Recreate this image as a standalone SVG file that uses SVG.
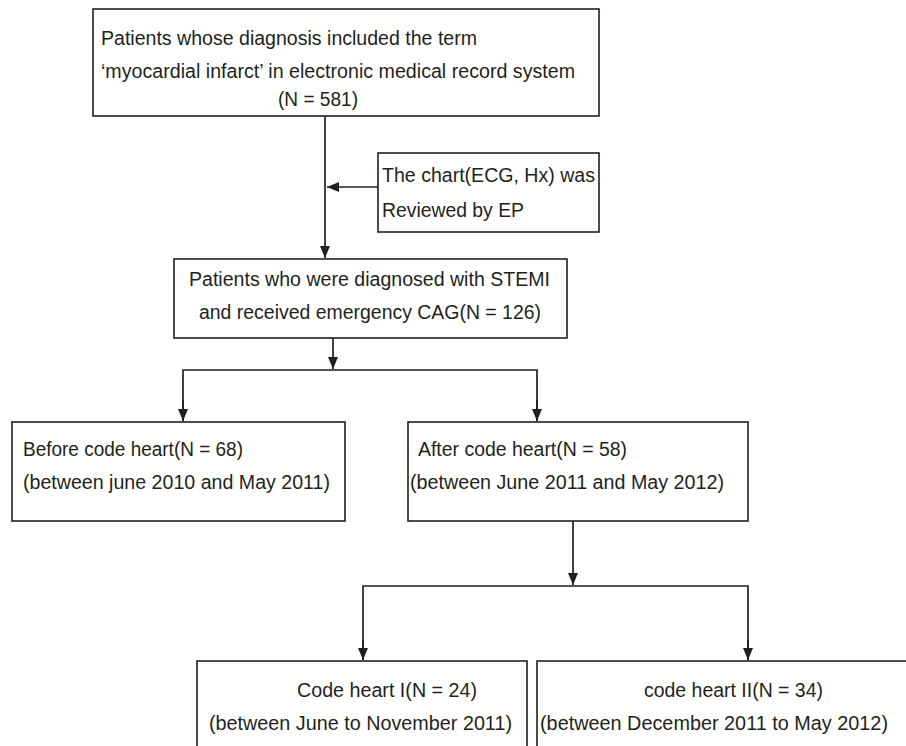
<svg xmlns="http://www.w3.org/2000/svg" width="906" height="746" viewBox="0 0 906 746">
<defs>
<style>
.box{fill:#fff;stroke:#231f20;stroke-width:1.6}
.t{font-family:"Liberation Sans",Arial,sans-serif;font-size:19.5px;fill:#231f20}
.c{fill:none;stroke:#231f20;stroke-width:1.7}
</style>
<marker id="ah" viewBox="0 0 12 10" refX="12" refY="5" markerWidth="12" markerHeight="10" markerUnits="userSpaceOnUse" orient="auto">
<path d="M0,0 L12,5 L0,10 Z" fill="#231f20"/>
</marker>
</defs>
<rect width="906" height="746" fill="#fff"/>
<g id="connectors">
<line class="c" x1="325" y1="116" x2="325" y2="258" marker-end="url(#ah)"/>
<line class="c" x1="378" y1="187" x2="327" y2="187" marker-end="url(#ah)"/>
<line class="c" x1="333" y1="338" x2="333" y2="369" marker-end="url(#ah)"/>
<polyline class="c" points="183,421 183,370 537,370 537,421"/>
<line class="c" x1="183" y1="400" x2="183" y2="421" marker-end="url(#ah)"/>
<line class="c" x1="537" y1="400" x2="537" y2="421" marker-end="url(#ah)"/>
<line class="c" x1="573" y1="521" x2="573" y2="585" marker-end="url(#ah)"/>
<polyline class="c" points="363,660 363,586 748,586 748,660"/>
<line class="c" x1="363" y1="640" x2="363" y2="660" marker-end="url(#ah)"/>
<line class="c" x1="748" y1="640" x2="748" y2="660" marker-end="url(#ah)"/>
</g>
<g id="n1">
<rect class="box" x="93" y="9" width="506" height="107"/>
<text class="t" x="101" y="45" textLength="376" lengthAdjust="spacingAndGlyphs">Patients whose diagnosis included the term</text>
<text class="t" x="101" y="78" textLength="474" lengthAdjust="spacingAndGlyphs">‘myocardial infarct’ in electronic medical record system</text>
<text class="t" x="278" y="106" textLength="80" lengthAdjust="spacingAndGlyphs">(N = 581)</text>
</g>
<g id="n2">
<rect class="box" x="378" y="153" width="221" height="79"/>
<text class="t" x="382" y="182" textLength="213" lengthAdjust="spacingAndGlyphs">The chart(ECG, Hx) was</text>
<text class="t" x="382" y="217" textLength="142" lengthAdjust="spacingAndGlyphs">Reviewed by EP</text>
</g>
<g id="n3">
<rect class="box" x="174" y="259" width="393" height="79"/>
<text class="t" x="189" y="286" textLength="361" lengthAdjust="spacingAndGlyphs">Patients who were diagnosed with STEMI</text>
<text class="t" x="199" y="319" textLength="342" lengthAdjust="spacingAndGlyphs">and received emergency CAG(N = 126)</text>
</g>
<g id="n4">
<rect class="box" x="12" y="422" width="333" height="99"/>
<text class="t" x="23" y="456" textLength="220" lengthAdjust="spacingAndGlyphs">Before code heart(N = 68)</text>
<text class="t" x="23" y="489" textLength="307" lengthAdjust="spacingAndGlyphs">(between june 2010 and May 2011)</text>
</g>
<g id="n5">
<rect class="box" x="408" y="422" width="340" height="99"/>
<text class="t" x="418" y="456" textLength="209" lengthAdjust="spacingAndGlyphs">After code heart(N = 58)</text>
<text class="t" x="410" y="489" textLength="314" lengthAdjust="spacingAndGlyphs">(between June 2011 and May 2012)</text>
</g>
<g id="n6">
<rect class="box" x="197" y="661" width="330" height="110"/>
<text class="t" x="297" y="697" textLength="180" lengthAdjust="spacingAndGlyphs">Code heart I(N = 24)</text>
<text class="t" x="209" y="730" textLength="303" lengthAdjust="spacingAndGlyphs">(between June to November 2011)</text>
</g>
<g id="n7">
<rect class="box" x="537" y="661" width="390" height="110"/>
<text class="t" x="644" y="697" textLength="179" lengthAdjust="spacingAndGlyphs">code heart II(N = 34)</text>
<text class="t" x="540" y="730" textLength="348" lengthAdjust="spacingAndGlyphs">(between December 2011 to May 2012)</text>
</g>
</svg>
